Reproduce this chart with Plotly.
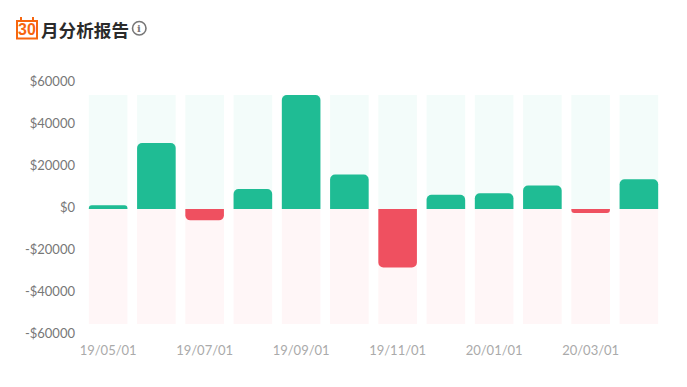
import plotly.graph_objects as go

categories = ["19/05/01", "19/06/01", "19/07/01", "19/08/01", "19/09/01", "19/10/01",
              "19/11/01", "19/12/01", "20/01/01", "20/02/01", "20/03/01", "20/04/01"]
values = [1800, 31400, -5400, 9500, 54300, 16400, -27800, 6800, 7500, 11200, -1900, 14200]
bg_upper = [54300] * 12
bg_lower = [-54800] * 12
y_ticks = [60000, 40000, 20000, 0, -20000, -40000, -60000]
y_labels = ["$60000", "$40000", "$20000", "$0", "-$20000", "-$40000", "-$60000"]
x_tick_labels = categories[::2]

W, H = 687, 387
L, R, T, B = 84, 24, 83, 52
OFF = 8  # page body margin
FONT = "Lato, 'Noto Sans', sans-serif"
CJK = "'Noto Sans CJK SC', sans-serif"

def px(x):
    return (x - L) / (W - L - R)

def py(y):
    return 1 - (y - T) / (H - T - B)

GREEN = "#1fbc94"
RED = "#ef5060"
ORANGE = "#f7660f"
colors = [GREEN if v >= 0 else RED for v in values]

fig = go.Figure()
fig.add_bar(x=categories, y=bg_upper, marker=dict(color="#f3fcfa", line_width=0),
            width=0.8, hoverinfo="skip")
fig.add_bar(x=categories, y=bg_lower, marker=dict(color="#fff6f7", line_width=0),
            width=0.8, hoverinfo="skip")
fig.add_bar(x=categories, y=values, yaxis="y2",
            marker=dict(color=colors, line_width=0, cornerradius=5), width=0.8)

def rect(x0, y0, x1, y1, **kw):
    return dict(type="rect", xref="paper", yref="paper", x0=px(x0), x1=px(x1), y0=py(y0), y1=py(y1), **kw)

shapes = [
    rect(17, 21, 37, 38.5, line=dict(color=ORANGE, width=2), fillcolor="rgba(0,0,0,0)"),
    rect(16, 20, 38, 22, line_width=0, fillcolor=ORANGE),
    rect(20, 17, 22, 21, line_width=0, fillcolor=ORANGE),
    rect(32, 17, 34, 21, line_width=0, fillcolor=ORANGE),
    dict(type="circle", xref="paper", yref="paper", x0=px(132.5), x1=px(146), y0=py(21.5), y1=py(35),
         line=dict(color="#777777", width=1.6), fillcolor="rgba(0,0,0,0)"),
    rect(685, 0, 687, 387, line_width=0, fillcolor="#f8f8f8"),
]

annotations = [
    dict(text="<b>30</b>", x=px(27), y=py(29.5), xref="paper", yref="paper", showarrow=False,
         font=dict(family="'Liberation Sans', sans-serif", size=16, color=ORANGE),
         xanchor="center", yanchor="middle"),
    dict(text="<b>月分析报告</b>", x=px(38.5), y=py(29), xref="paper", yref="paper", showarrow=False,
         font=dict(family=CJK, size=17.6, color="#2b2b2b"), xanchor="left", yanchor="middle"),
    dict(text="<b>i</b>", x=px(139.2), y=py(28.2), xref="paper", yref="paper", showarrow=False,
         font=dict(family="'DejaVu Serif', serif", size=10, color="#777777"), xanchor="center", yanchor="middle"),
]

fig.update_layout(
    width=W - OFF, height=H - OFF, autosize=False,
    margin=dict(l=L - OFF, r=R, t=T - OFF, b=B),
    barmode="overlay", bargap=0.2,
    paper_bgcolor="white", plot_bgcolor="white",
    showlegend=False,
    shapes=shapes, annotations=annotations,
    font=dict(family=FONT),
    xaxis=dict(type="category", categoryorder="array", categoryarray=categories,
               tickmode="array", tickvals=x_tick_labels, ticktext=x_tick_labels,
               showgrid=False, zeroline=False, showline=False, ticks="",
               ticklabelstandoff=6,
               tickangle=0, tickfont=dict(family=FONT, size=13, color="#aaaaaa")),
    yaxis=dict(range=[-60000, 60000], tickmode="array", tickvals=y_ticks, ticktext=y_labels,
               showgrid=False, zeroline=False, showline=False, ticks="",
               ticklabelstandoff=8, ticklabelshift=-2,
               tickfont=dict(family=FONT, size=13, color="#777777")),
    yaxis2=dict(range=[-60000, 60000], overlaying="y", visible=False),
)

fig.write_html("out.html", config=dict(displayModeBar=False))
